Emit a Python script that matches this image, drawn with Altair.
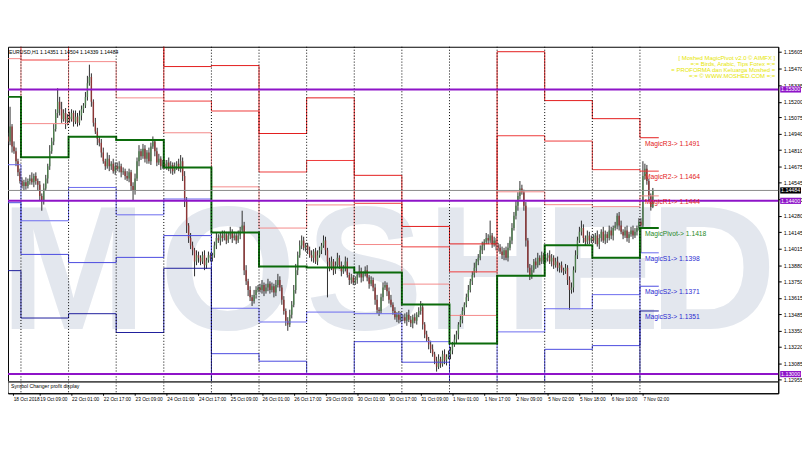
import json
import altair as alt
import pandas as pd

# ---------------- data (EURUSD H1) ----------------
FIRST_OPEN = 1.1492
CLOSE = [
    # 18 Oct (tail)
    1.1488, 1.1500, 1.1484, 1.1480, 1.1472, 1.1463, 1.1456,
    # 19 Oct
    1.1452, 1.1455, 1.1452, 1.1456, 1.1458, 1.1455, 1.1460, 1.1456,
    1.1453, 1.1444, 1.1440, 1.1450, 1.1458, 1.1468, 1.1480, 1.1488,
    1.1498, 1.1511, 1.1520, 1.1514, 1.1506, 1.1511, 1.1504, 1.1508,
    # 22 Oct
    1.1506, 1.1511, 1.1504, 1.1508, 1.1503, 1.1509, 1.1514, 1.1517,
    1.1524, 1.1535, 1.1540, 1.1520, 1.1503, 1.1496, 1.1490, 1.1487,
    1.1479, 1.1472, 1.1468, 1.1474, 1.1468, 1.1470, 1.1464, 1.1468,
    # 23 Oct
    1.1466, 1.1468, 1.1463, 1.1464, 1.1460, 1.1458, 1.1463, 1.1452,
    1.1448, 1.1458, 1.1472, 1.1480, 1.1476, 1.1482, 1.1474, 1.1479,
    1.1472, 1.1484, 1.1488, 1.1480, 1.1471, 1.1474, 1.1468, 1.1470,
    # 24 Oct
    1.1468, 1.1471, 1.1466, 1.1469, 1.1464, 1.1468, 1.1470, 1.1466,
    1.1472, 1.1460, 1.1440, 1.1420, 1.1410, 1.1404, 1.1400, 1.1391,
    1.1396, 1.1394, 1.1391, 1.1396, 1.1388, 1.1392, 1.1396, 1.1394,
    # 25 Oct
    1.1396, 1.1404, 1.1410, 1.1408, 1.1412, 1.1410, 1.1413, 1.1408,
    1.1412, 1.1415, 1.1410, 1.1412, 1.1408, 1.1412, 1.1416, 1.1420,
    1.1384, 1.1375, 1.1368, 1.1362, 1.1359, 1.1364, 1.1368, 1.1370,
    # 26 Oct
    1.1368, 1.1372, 1.1367, 1.1370, 1.1373, 1.1368, 1.1371, 1.1366,
    1.1372, 1.1376, 1.1370, 1.1360, 1.1351, 1.1343, 1.1340, 1.1348,
    1.1356, 1.1368, 1.1384, 1.1396, 1.1404, 1.1408, 1.1402, 1.1404,
    # 29 Oct
    1.1400, 1.1396, 1.1394, 1.1399, 1.1391, 1.1396, 1.1400, 1.1404,
    1.1408, 1.1400, 1.1391, 1.1386, 1.1391, 1.1384, 1.1388, 1.1394,
    1.1388, 1.1383, 1.1386, 1.1391, 1.1380, 1.1376, 1.1378, 1.1374,
    # 30 Oct
    1.1376, 1.1380, 1.1383, 1.1378, 1.1381, 1.1384, 1.1378, 1.1373,
    1.1376, 1.1370, 1.1360, 1.1352, 1.1351, 1.1362, 1.1370, 1.1372,
    1.1367, 1.1360, 1.1356, 1.1351, 1.1346, 1.1348, 1.1344, 1.1346,
    # 31 Oct
    1.1346, 1.1343, 1.1348, 1.1344, 1.1341, 1.1346, 1.1343, 1.1348,
    1.1351, 1.1354, 1.1340, 1.1332, 1.1328, 1.1324, 1.1320, 1.1316,
    1.1311, 1.1306, 1.1312, 1.1308, 1.1316, 1.1311, 1.1314, 1.1316,
    # 1 Nov
    1.1319, 1.1324, 1.1328, 1.1332, 1.1340, 1.1344, 1.1351, 1.1356,
    1.1362, 1.1368, 1.1375, 1.1380, 1.1386, 1.1391, 1.1394, 1.1400,
    1.1404, 1.1407, 1.1410, 1.1408, 1.1412, 1.1405, 1.1408, 1.1404,
    # 2 Nov
    1.1402, 1.1399, 1.1396, 1.1400, 1.1394, 1.1402, 1.1408, 1.1418,
    1.1428, 1.1436, 1.1444, 1.1450, 1.1447, 1.1436, 1.1408, 1.1386,
    1.1380, 1.1384, 1.1391, 1.1388, 1.1394, 1.1391, 1.1396, 1.1392,
    # 5 Nov
    1.1394, 1.1396, 1.1391, 1.1394, 1.1388, 1.1391, 1.1386, 1.1388,
    1.1384, 1.1383, 1.1386, 1.1376, 1.1368, 1.1370, 1.1384, 1.1396,
    1.1408, 1.1415, 1.1418, 1.1410, 1.1407, 1.1412, 1.1408, 1.1410,
    # 6 Nov
    1.1408, 1.1412, 1.1405, 1.1410, 1.1415, 1.1408, 1.1413, 1.1410,
    1.1416, 1.1412, 1.1418, 1.1420, 1.1428, 1.1420, 1.1415, 1.1412,
    1.1416, 1.1410, 1.1413, 1.1416, 1.1412, 1.1415, 1.1418, 1.1423,
    # 7 Nov
    1.1420, 1.1460, 1.1466, 1.1456, 1.1444, 1.14351, 1.14484,
]
UPPER_WICK_PIPS = [
    3, 16, 2, 4, 3, 2, 3,
    3, 2, 4, 2, 3, 5, 2, 3, 2, 3, 2, 4, 3, 2, 5, 3, 4, 3, 11, 4, 6, 3, 4, 2,
    4, 3, 2, 5, 3, 4, 3, 2, 4, 6, 10, 3, 2, 4, 3, 2, 3, 4, 2, 5, 3, 2, 4, 3,
    3, 4, 2, 3, 2, 4, 3, 2, 3, 4, 3, 5, 2, 4, 3, 2, 4, 3, 4, 2, 3, 4, 2, 3,
    3, 2, 4, 3, 2, 3, 2, 4, 5, 3, 4, 3, 2, 4, 3, 2, 4, 3, 2, 3, 4, 2, 3, 2,
    2, 3, 4, 3, 2, 4, 3, 2, 3, 4, 2, 3, 2, 4, 3, 12, 3, 4, 2, 3, 2, 4, 3, 2,
    3, 4, 2, 3, 4, 2, 3, 2, 4, 5, 3, 2, 3, 2, 3, 4, 3, 4, 5, 3, 4, 4, 3, 2,
    2, 3, 4, 2, 3, 4, 3, 2, 4, 3, 2, 3, 4, 2, 3, 4, 2, 3, 2, 4, 3, 2, 3, 2,
    3, 2, 5, 3, 2, 3, 4, 2, 3, 2, 3, 4, 2, 3, 4, 3, 2, 3, 4, 2, 3, 2, 3, 4,
    2, 3, 2, 4, 3, 2, 3, 2, 3, 5, 3, 2, 3, 2, 3, 4, 2, 3, 4, 2, 3, 4, 2, 3,
    3, 2, 4, 3, 2, 4, 3, 2, 3, 4, 2, 3, 4, 2, 3, 4, 3, 2, 4, 3, 12, 2, 3, 2,
    2, 3, 4, 2, 3, 4, 3, 4, 3, 4, 3, 6, 3, 2, 3, 2, 3, 4, 2, 3, 4, 2, 3, 2,
    3, 2, 4, 3, 2, 3, 4, 2, 3, 2, 3, 2, 3, 4, 3, 4, 3, 4, 6, 3, 2, 4, 3, 2,
    3, 2, 4, 3, 2, 4, 3, 2, 4, 3, 2, 3, 2, 3, 4, 2, 3, 4, 2, 3, 4, 3, 2, 3,
    3, 12, 4, 3, 2, 2, 2,
]
LOWER_WICK_PIPS = [
    2, 3, 5, 2, 4, 3, 2,
    2, 4, 3, 2, 3, 2, 4, 3, 5, 4, 8, 3, 2, 4, 3, 2, 3, 2, 4, 5, 3, 2, 6, 3,
    3, 2, 4, 2, 3, 2, 4, 3, 2, 3, 2, 4, 3, 2, 5, 3, 4, 2, 3, 2, 4, 3, 2, 3,
    2, 3, 4, 2, 3, 2, 3, 4, 8, 3, 2, 4, 3, 2, 3, 4, 2, 3, 2, 4, 3, 2, 3, 2,
    2, 3, 2, 4, 3, 2, 3, 2, 3, 4, 5, 6, 4, 3, 4, 12, 3, 4, 3, 2, 4, 3, 2, 3,
    3, 2, 3, 2, 4, 3, 2, 3, 2, 3, 4, 2, 3, 2, 3, 2, 4, 3, 5, 3, 4, 2, 3, 2,
    2, 3, 4, 2, 3, 3, 2, 4, 3, 2, 3, 4, 3, 4, 5, 2, 3, 2, 3, 4, 2, 3, 2, 3,
    3, 2, 3, 4, 2, 3, 2, 3, 2, 4, 29, 3, 2, 4, 3, 2, 3, 4, 2, 3, 2, 4, 3, 2,
    2, 3, 2, 4, 3, 2, 3, 4, 2, 3, 4, 3, 4, 2, 3, 2, 4, 3, 2, 3, 2, 4, 3, 2,
    3, 2, 4, 2, 3, 4, 2, 3, 2, 3, 4, 3, 2, 4, 3, 2, 3, 4, 2, 3, 2, 3, 4, 2,
    4, 3, 2, 3, 4, 2, 3, 4, 2, 3, 2, 3, 2, 4, 3, 2, 3, 4, 2, 3, 2, 3, 2, 4,
    3, 2, 3, 4, 2, 3, 2, 3, 2, 3, 4, 3, 2, 4, 5, 4, 4, 3, 2, 3, 2, 3, 2, 3,
    2, 3, 2, 4, 3, 2, 3, 4, 2, 3, 2, 4, 16, 3, 4, 2, 3, 2, 3, 4, 3, 2, 3, 2,
    2, 3, 2, 4, 3, 2, 3, 4, 2, 3, 4, 2, 3, 4, 2, 3, 2, 3, 4, 2, 3, 2, 3, 2,
    22, 2, 3, 3, 4, 3, 1,
]

# daily pivot levels (one value per trading day, 18 Oct .. 7 Nov)
DAY_START = [-3, 6.5, 30.5, 54.5, 78.5, 102.5, 126.5, 150.5, 174.5,
             198.5, 222.5, 246.5, 270.5, 294.5, 318.5]
LAST_DAY_END = 328
R3 = [1.16404, 1.15810, 1.16542, 1.16177, 1.15485, 1.15493, 1.14944, 1.15232,
      1.14606, 1.14193, 1.14052, 1.15605, 1.15210, 1.15064, 1.1491]
R2 = [1.16092, 1.15538, 1.15935, 1.15837, 1.15206, 1.15126, 1.14633, 1.14726,
      1.14380, 1.14028, 1.13826, 1.14926, 1.14883, 1.14652, 1.1464]
R1 = [1.15549, 1.15024, 1.15525, 1.15232, 1.14950, 1.14513, 1.14180, 1.14367,
      1.14047, 1.13727, 1.13474, 1.14473, 1.14369, 1.14353, 1.1444]
PIVOT = [1.15240, 1.14752, 1.14918, 1.14892, 1.14670, 1.14145, 1.13869, 1.13861,
         1.13821, 1.13562, 1.13248, 1.13794, 1.14041, 1.13941, 1.1418]
S1 = [1.14692, 1.14239, 1.14508, 1.14287, 1.14415, 1.13532, 1.13421, 1.13501,
      1.13488, 1.13262, 1.12896, 1.13341, 1.13528, 1.13642, 1.1398]
S2 = [1.14385, 1.13967, 1.13901, 1.13943, 1.14119, 1.13165, 1.13104, 1.12996,
      1.13262, 1.13096, 1.12673, 1.12665, 1.13200, 1.13230, 1.1371]
S3 = [1.13836, 1.13453, 1.13488, 1.13336, 1.13855, 1.12553, 1.12657, 1.12636,
      1.12928, 1.12796, 1.12321, 1.12210, 1.12689, 1.12931, 1.1351]
LEVEL_NAMES = ["R3", "R2", "R1", "Pivot", "S1", "S2", "S3"]
LEVEL_COLORS = ["#e31c1c", "#ee3b3b", "#f48a8a", "#0b6b0b", "#6b6bef", "#4a4ae0", "#1e1e9c"]
LABEL_COLORS = ["#e32222", "#e32222", "#e32222", "#1f8a1f", "#2a2ad0", "#2a2ad0", "#2a2ad0"]

XTICKS = [2.6, 16, 32, 48, 64, 80, 96, 112, 128, 144, 160, 176, 192, 208,
          224, 240, 256, 272, 288, 304, 320]
XLABELS = ["18 Oct 2018", "19 Oct 09:00", "22 Oct 01:00", "22 Oct 17:00",
           "23 Oct 09:00", "24 Oct 01:00", "24 Oct 17:00", "25 Oct 09:00",
           "26 Oct 01:00", "26 Oct 17:00", "29 Oct 09:00", "30 Oct 01:00",
           "30 Oct 17:00", "31 Oct 09:00", "1 Nov 01:00", "1 Nov 17:00",
           "2 Nov 09:00", "5 Nov 02:00", "5 Nov 18:00", "6 Nov 10:00", "7 Nov 02:00"]
YTICKS = [1.15605, 1.15470, 1.15335, 1.15200, 1.15075, 1.14940, 1.14810,
          1.14675, 1.14545, 1.14410, 1.14280, 1.14145, 1.14015, 1.13880,
          1.13750, 1.13615, 1.13485, 1.13350, 1.13220, 1.13085, 1.12955]
MARKED_LEVELS = [1.15300, 1.14400, 1.13000]
CURRENT_PRICE = 1.14484
BOX_LEVELS = [1.15300, 1.14484, 1.14400, 1.13000]
BOX_COLORS = ["#8e14c8", "#000000", "#8e14c8", "#8e14c8"]

HEADER = "EURUSD,H1  1.14351 1.14504 1.14339 1.14484"
YELLOW_LINES = ["[ Moshed MagicPivot v2.0 \u00a9 AIMFX ]",
                "=:= Birds, Arabic, Tips Forex =:=",
                "= PROFORMA dan Keluarga Moshed =",
                "=:= \u00a9 WWW.MOSHED.COM =:="]
SUBWINDOW_TITLE = "Symbol Changer profit display"
WATERMARK = ["M", "O", "S", "H", "E", "D"]

# ---------------- frames ----------------
opens = [FIRST_OPEN] + CLOSE[:-1]
candles = pd.DataFrame({
    "i": list(range(len(CLOSE))),
    "open": opens,
    "close": CLOSE,
})
candles["high"] = [max(o, c) + w / 10000 for o, c, w in zip(opens, CLOSE, UPPER_WICK_PIPS)]
candles["low"] = [min(o, c) - w / 10000 for o, c, w in zip(opens, CLOSE, LOWER_WICK_PIPS)]
candles["bc"] = ["#4d7d4d" if c >= o else "#8e3535" for o, c in zip(opens, CLOSE)]

rows = []
for name, arr, col in zip(LEVEL_NAMES, [R3, R2, R1, PIVOT, S1, S2, S3], LEVEL_COLORS):
    for d, v in enumerate(arr):
        rows.append({"level": name, "x": DAY_START[d], "v": v, "c": col})
    rows.append({"level": name, "x": LAST_DAY_END, "v": arr[-1], "c": col})
levels = pd.DataFrame(rows)

lab_rows = []
for name, arr, col in zip(LEVEL_NAMES, [R3, R2, R1, PIVOT, S1, S2, S3], LABEL_COLORS):
    lab_rows.append({"x": 321, "v": arr[-1], "t": f"Magic{name}-> {arr[-1]:.4f}", "c": col})
labels_df = pd.DataFrame(lab_rows)

seps = pd.DataFrame({"x": DAY_START[1:]})
hl = pd.DataFrame({"v": MARKED_LEVELS})
cur = pd.DataFrame({"v": [CURRENT_PRICE]})
boxes = pd.DataFrame({"v": BOX_LEVELS, "c": BOX_COLORS,
                      "lo": [b - 0.00025 for b in BOX_LEVELS],
                      "hi": [b + 0.00025 for b in BOX_LEVELS],
                      "t": [f"{b:.5f}" for b in BOX_LEVELS]})
one = pd.DataFrame({"a": [0]})

# ---------------- scales / axes ----------------
PLOT_W, PLOT_H = 778, 350
X_LO = 2.463
X_HI = X_LO + PLOT_W / 2.03
Y_HI = 1.15645
Y_LO = Y_HI - PLOT_H * 0.00008
xs = alt.Scale(domain=[X_LO, X_HI], nice=False, zero=False)
ys = alt.Scale(domain=[Y_LO, Y_HI], nice=False, zero=False)

FONT = "Liberation Sans"
x_axis = alt.Axis(values=XTICKS, labelExpr=f"{json.dumps(XLABELS)}[round(datum.value / 16)]",
                  labelAlign="left", labelFontSize=4.8, labelFont=FONT, labelColor="#000",
                  labelPadding=1, tickSize=2, tickColor="#000", domainColor="#000",
                  grid=False, title=None, labelOverlap=False, labelFlush=False)
y_axis = alt.Axis(orient="right", values=YTICKS, format=".5f", labelFontSize=5.4,
                  labelFont=FONT, labelColor="#000", labelPadding=2, tickSize=3,
                  tickColor="#000", domainColor="#000", grid=False, title=None,
                  labelOverlap=False, labelFlush=False)


def X(field):
    return alt.X(field, scale=xs, axis=x_axis, title=None)


def Y(field):
    return alt.Y(field, scale=ys, axis=y_axis, title=None)


layers = []
# watermark letters (decoration)
WM_X = [66, 222, 360, 487, 600, 712]
for ch, px in zip(WATERMARK, WM_X):
    layers.append(alt.Chart(one).mark_text(
        font="Liberation Sans", fontSize=178, fontWeight="bold", color="#e3e7ee",
        align="center", baseline="alphabetic").encode(
        x=alt.value(px), y=alt.value(285), text=alt.value(ch)))

wicks = alt.Chart(candles).mark_rule(strokeWidth=1, color="#2e2e2e", clip=True).encode(
    x=X("i:Q"), y=Y("low:Q"), y2="high:Q")
bodies = alt.Chart(candles).mark_bar(size=1.4, clip=True).encode(
    x=X("i:Q"), y=Y("open:Q"), y2="close:Q",
    color=alt.Color("bc:N", scale=None, legend=None))
rs = alt.Chart(levels[levels["level"] != "Pivot"]).mark_line(
    interpolate="step-after", strokeWidth=1, clip=True).encode(
    x=X("x:Q"), y=Y("v:Q"),
    color=alt.Color("c:N", scale=None, legend=None),
    detail="level:N")
pv = alt.Chart(levels[levels["level"] == "Pivot"]).mark_line(
    interpolate="step-after", strokeWidth=2, color="#0b6b0b", clip=True).encode(
    x=X("x:Q"), y=Y("v:Q"))
cover = alt.Chart(one).mark_rect(color="white").encode(
    x=alt.value(0.5), x2=alt.value(PLOT_W - 0.5), y=alt.value(338.5), y2=alt.value(PLOT_H - 0.5))
pane_line = alt.Chart(one).mark_rule(color="#505050", strokeWidth=1.6).encode(
    x=alt.value(0), x2=alt.value(PLOT_W), y=alt.value(338.5))
sub_title = alt.Chart(one).mark_text(font=FONT, fontSize=5.2, color="#000", align="left",
                                     baseline="middle").encode(
    x=alt.value(3), y=alt.value(343), text=alt.value(SUBWINDOW_TITLE))
separators = alt.Chart(seps).mark_rule(color="#000", strokeWidth=1, strokeDash=[1, 2]).encode(
    x=X("x:Q"))
purple = alt.Chart(hl).mark_rule(color="#8e14c8", strokeWidth=2).encode(y=Y("v:Q"))
curline = alt.Chart(cur).mark_rule(color="#8a8a8a", strokeWidth=1).encode(y=Y("v:Q"))
header = alt.Chart(one).mark_text(font=FONT, fontSize=5.2, color="#000", align="left",
                                  baseline="middle").encode(
    x=alt.value(1), y=alt.value(5), text=alt.value(HEADER))
yellow = [alt.Chart(one).mark_text(font=FONT, fontSize=6, color="#e6e600", align="right",
                                   baseline="middle").encode(
    x=alt.value(PLOT_W - 3), y=alt.value(11.5 + 6 * k), text=alt.value(t))
    for k, t in enumerate(YELLOW_LINES)]
lvl_labels = alt.Chart(labels_df).mark_text(font=FONT, fontSize=6.8, align="left",
                                            baseline="middle", dy=6).encode(
    x=X("x:Q"), y=Y("v:Q"), text="t:N",
    color=alt.Color("c:N", scale=None, legend=None))
box_rects = alt.Chart(boxes).mark_rect().encode(
    x=alt.value(PLOT_W + 2), x2=alt.value(PLOT_W + 23),
    y=Y("lo:Q"), y2="hi:Q",
    color=alt.Color("c:N", scale=None, legend=None))
box_text = alt.Chart(boxes).mark_text(font=FONT, fontSize=5.4, color="white", align="center",
                                      baseline="middle").encode(
    x=alt.value(PLOT_W + 12.5), y=Y("v:Q"), text="t:N")

chart = alt.layer(
    *layers, wicks, bodies, rs, pv, cover, separators, pane_line, sub_title,
    purple, curline, header, *yellow, lvl_labels, box_rects, box_text,
).properties(
    width=PLOT_W, height=PLOT_H,
    autosize=alt.AutoSizeParams(type="none"),
    padding={"left": 0, "top": 37, "right": 24, "bottom": 40},
    background="white",
).configure_view(stroke="#000", strokeWidth=1)

chart.save("out.html", embed_options={"renderer": "svg", "actions": False})
